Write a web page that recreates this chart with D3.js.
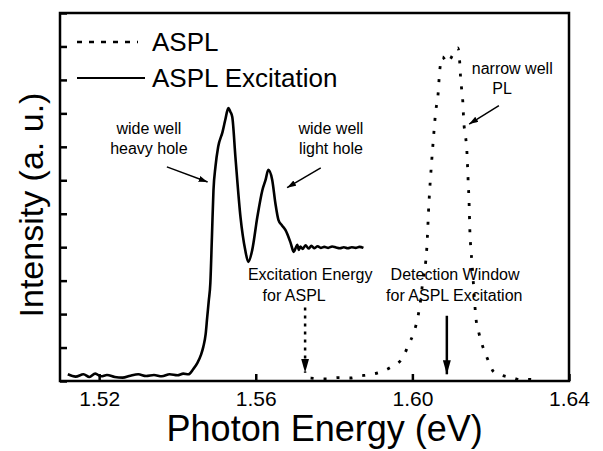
<!DOCTYPE html>
<html>
<head>
<meta charset="utf-8">
<script src="https://cdn.jsdelivr.net/npm/d3@7"></script>
<style>
  body { margin: 0; background: #fff; }
  text { font-family: "Liberation Sans", Arial, sans-serif; fill: #000; }
</style>
</head>
<body>
<div id="chart"></div>
<script>
// series: ASPL excitation spectrum (solid)
const excitationEnergy = [1.5120, 1.5140, 1.5160, 1.5175, 1.5190, 1.5205, 1.5220, 1.5240, 1.5260, 1.5280,
  1.5300, 1.5320, 1.5340, 1.5360, 1.5380, 1.5400, 1.5415, 1.5428, 1.5440, 1.5451, 1.5460, 1.5466,
  1.5472, 1.5476, 1.5480, 1.5484, 1.5488, 1.5492, 1.5497, 1.5504, 1.5515, 1.5522, 1.5530, 1.5535,
  1.5540, 1.5548, 1.5561, 1.5573, 1.5581, 1.5591, 1.5604, 1.5617, 1.5625, 1.5632, 1.5642, 1.5650,
  1.5658, 1.5667, 1.5676, 1.5689, 1.5697, 1.5702, 1.5706, 1.5710, 1.5714, 1.5720, 1.5727, 1.5735,
  1.5742, 1.5750, 1.5758, 1.5766, 1.5775, 1.5785, 1.5795, 1.5805, 1.5815, 1.5825, 1.5835, 1.5845,
  1.5855, 1.5865, 1.5875];
const excitationIntensity = [0.20, 0.13, 0.20, 0.12, 0.22, 0.14, 0.18, 0.12, 0.10, 0.16,
  0.20, 0.15, 0.18, 0.14, 0.20, 0.17, 0.22, 0.20, 0.35, 0.54, 0.78, 1.02,
  1.40, 1.91, 2.40, 2.93, 4.30, 5.71, 6.40, 7.00, 7.44, 7.80, 8.16, 8.05,
  7.89, 6.70, 4.90, 3.92, 3.56, 3.92, 4.90, 5.71, 6.01, 6.31, 6.01, 5.32,
  4.81, 4.65, 4.51, 4.13, 3.86, 3.98, 4.07, 3.92, 4.02, 3.95, 4.06, 3.96,
  4.04, 3.97, 4.03, 3.98, 4.01, 3.98, 4.02, 3.99, 3.97, 4.00, 3.97, 4.00,
  3.98, 4.01, 3.98];

// series: ASPL (dotted)
const asplEnergy = [1.5740, 1.5780, 1.5810, 1.5842, 1.5865, 1.5886, 1.5919, 1.5950, 1.5975, 1.5990,
  1.6003, 1.6014, 1.6021, 1.6026, 1.6037, 1.6042, 1.6049, 1.6054, 1.6060, 1.6065, 1.6070, 1.6077,
  1.6083, 1.6090, 1.6097, 1.6103, 1.6110, 1.6116, 1.6121, 1.6123, 1.6126, 1.6129, 1.6131, 1.6136,
  1.6139, 1.6142, 1.6145, 1.6147, 1.6149, 1.6152, 1.6157, 1.6162, 1.6170, 1.6180, 1.6193, 1.6208,
  1.6225, 1.6244, 1.6260, 1.6277, 1.6295, 1.6315];
const asplIntensity = [0.09, 0.06, 0.10, 0.09, 0.15, 0.18, 0.27, 0.45, 0.69, 1.08,
  1.43, 1.91, 2.42, 2.93, 4.01, 5.26, 6.52, 7.29, 8.10, 8.49, 9.30, 9.69,
  9.60, 9.51, 9.62, 9.75, 9.85, 9.96, 9.51, 9.09, 8.70, 8.31, 7.80, 7.29,
  6.91, 6.10, 5.26, 4.42, 4.01, 3.56, 2.72, 1.91, 1.43, 1.02, 0.63, 0.27,
  0.18, 0.12, 0.08, 0.03, 0.05, 0.03];

const seriesNames = ["ASPL", "ASPL Excitation"];
const xTickValues = [1.52, 1.56, 1.60, 1.64];
const yTickValues = d3.range(0, 12);

const width = 603;
const height = 451;
const margin = { top: 13, right: 34, bottom: 70, left: 60 };
const innerW = width - margin.left - margin.right;
const innerH = height - margin.top - margin.bottom;

const svg = d3.select("#chart").append("svg")
  .attr("width", width)
  .attr("height", height);

const defs = svg.append("defs");
const addArrowHead = function (id, w, h) {
  defs.append("marker")
    .attr("id", id)
    .attr("viewBox", `0 0 ${w} ${h}`)
    .attr("refX", w)
    .attr("refY", h / 2)
    .attr("markerUnits", "userSpaceOnUse")
    .attr("markerWidth", w)
    .attr("markerHeight", h)
    .attr("orient", "auto")
    .append("path")
    .attr("d", `M0,0L${w},${h / 2}L0,${h}Z`)
    .attr("fill", "#000");
};
addArrowHead("headSmall", 9, 6);
addArrowHead("headBig", 14, 8);

const g = svg.append("g").attr("transform", `translate(${margin.left},${margin.top})`);

const x = d3.scaleLinear().domain([1.51, 1.64]).range([0, innerW]);
const y = d3.scaleLinear().domain([0, 11]).range([innerH, 0]);

// axes (ticks point inward)
g.append("g")
  .attr("transform", `translate(0,${innerH})`)
  .call(d3.axisBottom(x).tickValues(xTickValues).tickFormat(d3.format(".2f")).tickSize(-7).tickPadding(10))
  .call(a => a.select(".domain").remove())
  .call(a => a.selectAll("line").attr("stroke-width", 2.5))
  .call(a => a.selectAll("text").attr("font-size", 21).attr("font-family", "Liberation Sans, Arial, sans-serif"));

g.append("g")
  .call(d3.axisLeft(y).tickValues(yTickValues).tickFormat("").tickSize(-7))
  .call(a => a.select(".domain").remove())
  .call(a => a.selectAll("line").attr("stroke-width", 2.5));

g.append("rect")
  .attr("x", 0).attr("y", 0)
  .attr("width", innerW).attr("height", innerH)
  .attr("fill", "none")
  .attr("stroke", "#000")
  .attr("stroke-width", 2.5);

// curves
const line = d3.line()
  .x(d => x(d[0]))
  .y(d => y(d[1]))
  .curve(d3.curveMonotoneX);

g.append("path")
  .datum(d3.zip(excitationEnergy, excitationIntensity))
  .attr("d", line)
  .attr("fill", "none")
  .attr("stroke", "#000")
  .attr("stroke-width", 2.6)
  .attr("stroke-linejoin", "round");

g.append("path")
  .datum(d3.zip(asplEnergy, asplIntensity))
  .attr("d", line)
  .attr("fill", "none")
  .attr("stroke", "#000")
  .attr("stroke-width", 2.8)
  .attr("stroke-dasharray", "3,10");

// legend
const legend = g.append("g");
legend.append("line")
  .attr("x1", 17).attr("x2", 78).attr("y1", 29).attr("y2", 29)
  .attr("stroke", "#000").attr("stroke-width", 2.6).attr("stroke-dasharray", "5,7");
legend.append("line")
  .attr("x1", 17).attr("x2", 85).attr("y1", 65).attr("y2", 65)
  .attr("stroke", "#000").attr("stroke-width", 2.2);
legend.selectAll("text.leg")
  .data(seriesNames)
  .enter().append("text")
  .attr("class", "leg")
  .attr("x", 92)
  .attr("y", (d, i) => 38 + i * 36)
  .attr("font-size", 26)
  .text(d => d);

// annotations
const note = function (cx, cy, t) {
  g.append("text")
    .attr("x", cx).attr("y", cy)
    .attr("text-anchor", "middle")
    .attr("font-size", 16)
    .text(t);
};
const arrow = function (x1, y1, x2, y2, head, sw, dash) {
  const a = g.append("line")
    .attr("x1", x1).attr("y1", y1).attr("x2", x2).attr("y2", y2)
    .attr("stroke", "#000").attr("stroke-width", sw)
    .attr("marker-end", `url(#${head})`);
  if (dash) a.attr("stroke-dasharray", dash);
};

note(x(1.5327), y(7.38), "wide well");
note(x(1.5327), y(6.78), "heavy  hole");
arrow(x(1.5373), y(6.4), x(1.5477), y(5.95), "headSmall", 1.5);

note(x(1.5792), y(7.38), "wide well");
note(x(1.5792), y(6.78), "light  hole");
arrow(x(1.5766), y(6.37), x(1.5680), y(5.78), "headSmall", 1.5);

note(x(1.6255), y(9.18), "narrow well");
note(x(1.6229), y(8.58), "PL");
arrow(x(1.6221), y(8.23), x(1.6145), y(7.68), "headSmall", 1.5);

note(x(1.5739), y(3.02), "Excitation Energy");
note(x(1.5698), y(2.40), "for ASPL");
arrow(x(1.5726), y(2.2), x(1.5726), y(0.25), "headBig", 2.5, "3,5");

note(x(1.6109), y(3.02), "Detection Window");
note(x(1.6107), y(2.40), "for ASPL Excitation");
arrow(x(1.6088), y(1.95), x(1.6088), y(0.2), "headBig", 2.5);

// axis titles
svg.append("text")
  .attr("x", margin.left + x(1.5776))
  .attr("y", 441)
  .attr("text-anchor", "middle")
  .attr("font-size", 36)
  .text("Photon Energy (eV)");

svg.append("text")
  .attr("transform", `translate(43,${margin.top + y(5.26)}) rotate(-90)`)
  .attr("text-anchor", "middle")
  .attr("font-size", 34)
  .text("Intensity (a. u.)");
</script>
</body>
</html>
